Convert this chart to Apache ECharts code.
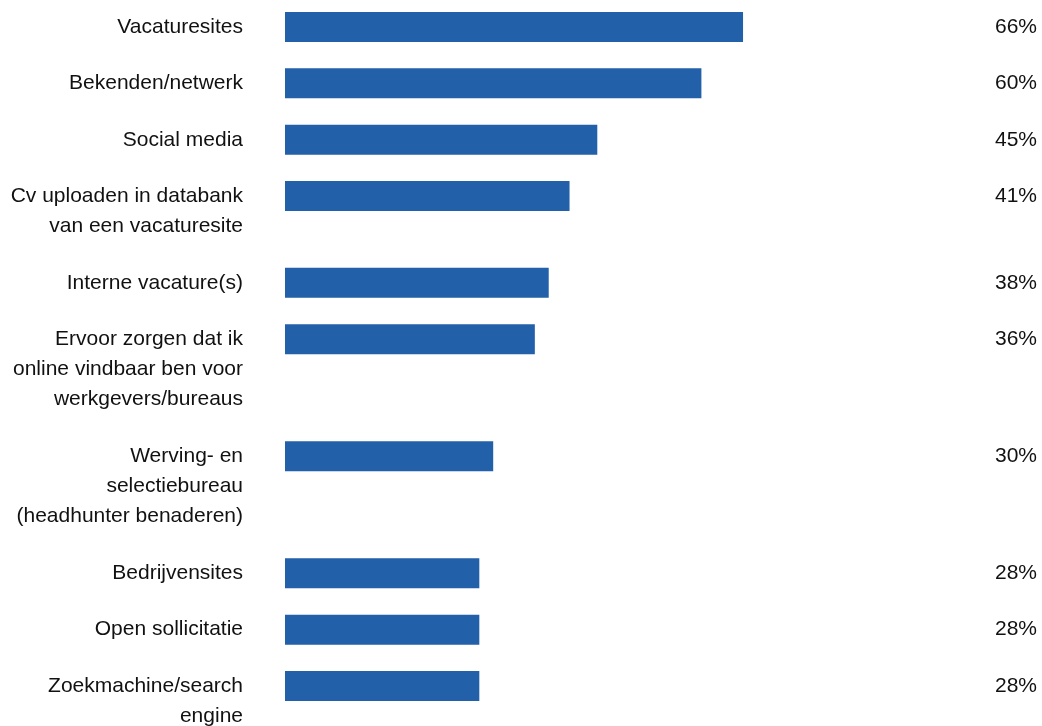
<!DOCTYPE html>
<html>
<head>
<meta charset="utf-8">
<script src="https://cdn.jsdelivr.net/npm/echarts@6/dist/echarts.min.js"></script>
<style>
html,body{margin:0;padding:0;background:#fff;}
#chart{width:1042px;height:726px;}
</style>
</head>
<body>
<div id="chart"></div>
<script>
// Data
const categories = [
  "Vacaturesites",
  "Bekenden/netwerk",
  "Social media",
  "Cv uploaden in databank\nvan een vacaturesite",
  "Interne vacature(s)",
  "Ervoor zorgen dat ik\nonline vindbaar ben voor\nwerkgevers/bureaus",
  "Werving- en\nselectiebureau\n(headhunter benaderen)",
  "Bedrijvensites",
  "Open sollicitatie",
  "Zoekmachine/search\nengine"
];
const values = [66, 60, 45, 41, 38, 36, 30, 28, 28, 28];

// Layout: each item occupies a block of fine slots, growing with its label line count
const SLOT_BASE = 13;   // slots for a one-line label
const SLOT_LINE = 7;    // extra slots per extra label line

const slotNames = [];
const slotValues = [];
const slotLabels = [];
categories.forEach((cat, i) => {
  const lines = cat.split("\n").length;
  const span = (i === categories.length - 1) ? 1 : SLOT_BASE + SLOT_LINE * (lines - 1);
  for (let k = 0; k < span; k++) {
    if (k === 0) {
      slotNames.push(cat);
      slotValues.push(values[i]);
      slotLabels.push(cat);
    } else {
      slotNames.push("_" + i + "_" + k);
      slotValues.push(null);
      slotLabels.push("");
    }
  }
});

const FONT = "'Liberation Sans', Arial, sans-serif";
const chart = echarts.init(document.getElementById('chart'));
chart.setOption({
  animation: false,
  grid: { left: 285, right: 63, top: 27, bottom: 40, containLabel: false, outerBoundsMode: 'none' },
  xAxis: { type: 'value', min: 0, max: 100, show: false },
  yAxis: [
    {
      type: 'category',
      data: slotNames,
      inverse: true,
      boundaryGap: false,
      axisLine: { show: false },
      axisTick: { show: false },
      splitLine: { show: false },
      axisLabel: {
        interval: 0,
        margin: 42,
        fontSize: 21,
        lineHeight: 30,
        color: '#111',
        fontFamily: FONT,
        align: 'right',
        padding: [2, 0, 0, 0],
        formatter: function (v, idx) {
          const lab = slotLabels[idx];
          if (!lab) return '';
          const n = lab.split("\n").length;
          return "\n".repeat(n - 1) + lab;
        }
      }
    },
    {
      type: 'category',
      data: slotNames,
      inverse: true,
      boundaryGap: false,
      position: 'right',
      axisLine: { show: false },
      axisTick: { show: false },
      splitLine: { show: false },
      axisLabel: {
        interval: 0,
        margin: 58,
        fontSize: 21,
        color: '#111',
        fontFamily: FONT,
        align: 'right',
        padding: [2, 0, 0, 0],
        formatter: function (v, idx) {
          const val = slotValues[idx];
          return val == null ? '' : val + '%';
        }
      }
    }
  ],
  series: [{
    type: 'bar',
    data: slotValues,
    barWidth: 30,
    clip: false,
    itemStyle: { color: '#2261A9' },
    silent: true
  }]
});
</script>
</body>
</html>
